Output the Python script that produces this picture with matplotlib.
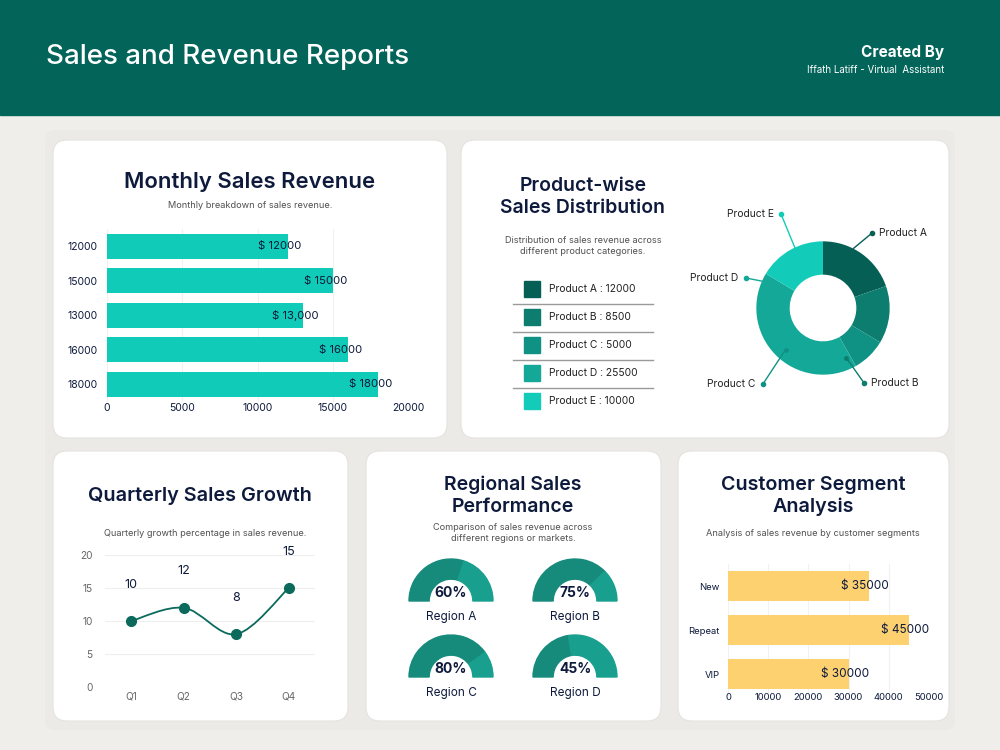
import matplotlib
matplotlib.use("Agg")
import matplotlib.pyplot as plt
import numpy as np
from matplotlib.patches import FancyBboxPatch, Rectangle, Wedge, PathPatch
from matplotlib.path import Path

plt.rcParams["font.family"] = ["Inter", "DejaVu Sans"]

# ---- data ----
monthly_labels = ["12000", "15000", "13000", "16000", "18000"]
monthly_values = [12000, 15000, 13000, 16000, 18000]
monthly_text = ["$ 12000", "$ 15000", "$ 13,000", "$ 16000", "$ 18000"]

products = ["Product A", "Product B", "Product C", "Product D", "Product E"]
product_sales = [12000, 8500, 5000, 25500, 10000]

quarters = ["Q1", "Q2", "Q3", "Q4"]
growth = [10, 12, 8, 15]

regions = ["Region A", "Region B", "Region C", "Region D"]
region_pct = [60, 75, 80, 45]

segments = ["New", "Repeat", "VIP"]
segment_sales = [35000, 45000, 30000]

# ---- style ----
NAVY = "#0e1a3c"
GREY = "#505050"
HEADER = "#03645a"
BG = "#efeeeb"
PANEL = "#eceae7"
TEAL_BAR = "#10cbb7"
YELLOW = "#fdd170"
PRODUCT_COLORS = ["#065f55", "#0c7d6f", "#0f9283", "#13a898", "#12cbb8"]
GAUGE_DARK = "#168a7b"
GAUGE_LIGHT = "#199f8e"
LINE = "#0b6a5c"

W, H = 1000, 750
fig = plt.figure(figsize=(10, 7.5), dpi=100, facecolor=BG)

bg = fig.add_axes([0, 0, 1, 1], zorder=-1)
bg.set_xlim(0, W)
bg.set_ylim(H, 0)
bg.axis("off")


def rect(x0, y0, x1, y1):
    return [x0 / W, 1 - y1 / H, (x1 - x0) / W, (y1 - y0) / H]


# header + panel + cards
bg.add_patch(Rectangle((0, 0), W, 115, color=HEADER))
bg.add_patch(FancyBboxPatch((45, 130), 910, 600, boxstyle="round,pad=0,rounding_size=10",
                            fc=PANEL, ec="none"))
cards = [(53, 140, 447, 438), (461, 140, 949, 438), (53, 451, 348, 721),
         (366, 451, 661, 721), (678, 451, 949, 721)]
for x0, y0, x1, y1 in cards:
    bg.add_patch(FancyBboxPatch((x0, y0), x1 - x0, y1 - y0,
                                boxstyle="round,pad=0,rounding_size=14",
                                fc="white", ec="#e4e3df", lw=0.8))

bg.text(46, 57, "Sales and Revenue Reports", color="white", fontsize=20, fontweight="medium",
        va="center", ha="left")
bg.text(944, 53, "Created By", color="white", fontsize=11, fontweight="bold", va="center", ha="right")
bg.text(944, 70, "Iffath Latiff - Virtual  Assistant", color="white", fontsize=7, va="center", ha="right")


def title(x, y, s, size):
    bg.text(x, y, s, color=NAVY, fontsize=size, fontweight="semibold", ha="center", va="center",
            linespacing=1.3)


def subtitle(x, y, s):
    bg.text(x, y, s, color=GREY, fontsize=6.6, ha="center", va="center", linespacing=1.3)


# ---- card 1: monthly bars ----
title(250, 182, "Monthly Sales Revenue", 15.9)
subtitle(250, 205, "Monthly breakdown of sales revenue.")
ax1 = fig.add_axes(rect(107, 229, 408, 401.5))
ax1.set_facecolor("none")
y1 = np.arange(len(monthly_values))
ax1.barh(y1, monthly_values, height=0.72, color=TEAL_BAR, zorder=2)
for yy, v, t in zip(y1, monthly_values, monthly_text):
    ax1.text(v - 500, yy, t, ha="center", va="center", fontsize=8.2, color=NAVY, zorder=3)
ax1.set_xlim(0, 20000)
ax1.set_ylim(len(monthly_values) - 0.5, -0.5)
ax1.set_yticks(y1, monthly_labels)
ax1.set_xticks([0, 5000, 10000, 15000, 20000])
ax1.grid(axis="x", color="#f1f1f1", lw=0.8, zorder=0)
for s in ax1.spines.values():
    s.set_visible(False)
ax1.tick_params(axis="y", length=0, labelsize=7.5, labelcolor=NAVY, pad=7)
ax1.tick_params(axis="x", length=0, labelsize=7.5, labelcolor=NAVY, pad=1)

# ---- card 2: product donut ----
title(583, 197, "Product-wise\nSales Distribution", 14)
subtitle(583, 246, "Distribution of sales revenue across\ndifferent product categories.")
for i, (p, v, c) in enumerate(zip(products, product_sales, PRODUCT_COLORS)):
    yc = 289 + i * 28
    bg.add_patch(Rectangle((524, yc - 8), 16, 16, color=c))
    bg.text(549, yc, f"{p} : {v}", fontsize=7.4, color="#222222", va="center", ha="left")
    if i < len(products) - 1:
        bg.plot([513, 653], [yc + 15, yc + 15], color="#9a9a9a", lw=1)

ax2 = fig.add_axes(rect(723, 208, 923, 408))
ax2.set_facecolor("none")
ax2.pie(product_sales, colors=PRODUCT_COLORS, startangle=90, counterclock=False, radius=1,
        wedgeprops=dict(width=0.5, edgecolor="none"))
ax2.set_xlim(-1.5, 1.5)
ax2.set_ylim(-1.5, 1.5)
ax2.set_aspect("equal")
ax2.axis("off")
# label anchor angle, anchor radius, label point, text side
label_layout = [(63, 1.0, (0.735, 1.124), "left"),
                (-65, 0.82, (0.615, -1.124), "left"),
                (-132, 0.84, (-0.90, -1.139), "right"),
                (156, 0.98, (-1.154, 0.45), "right"),
                (115, 1.0, (-0.63, 1.41), "right")]
for p, c, (ang, r, (lx, ly), side) in zip(products, PRODUCT_COLORS, label_layout):
    ax0, ay0 = r * np.cos(np.radians(ang)), r * np.sin(np.radians(ang))
    ax2.plot([ax0, lx], [ay0, ly], color=c, lw=1, clip_on=False)
    ax2.plot([lx], [ly], "o", color=c, ms=3, clip_on=False)
    if r < 0.95:
        ax2.plot([ax0], [ay0], "o", color=c, ms=2.5, clip_on=False)
    dx = 0.11 if side == "left" else -0.11
    ax2.text(lx + dx, ly, p, ha=side, va="center", fontsize=7.4, color="#222222", clip_on=False)

# ---- card 3: quarterly growth ----
title(200, 496, "Quarterly Sales Growth", 14.3)
subtitle(205, 533, "Quarterly growth percentage in sales revenue.")
ax3 = fig.add_axes(rect(105, 555, 315, 687))
ax3.set_facecolor("none")
xq = np.arange(len(growth))
pts = np.column_stack([xq, growth]).astype(float)
verts = [tuple(pts[0])]
codes = [Path.MOVETO]
for i in range(len(pts) - 1):
    p0 = pts[max(i - 1, 0)]
    p1, p2 = pts[i], pts[i + 1]
    p3 = pts[min(i + 2, len(pts) - 1)]
    verts += [tuple(p1 + (p2 - p0) / 6), tuple(p2 - (p3 - p1) / 6), tuple(p2)]
    codes += [Path.CURVE4] * 3
ax3.add_patch(PathPatch(Path(verts, codes), fill=False, ec=LINE, lw=1.3, zorder=3))
ax3.plot(xq, growth, "o", color=LINE, ms=7, zorder=4)
for x, v in zip(xq, growth):
    ax3.text(x, v + 5.5, str(v), ha="center", va="center", fontsize=9, color=NAVY)
ax3.set_xlim(-0.5, 3.5)
ax3.set_ylim(0, 20)
ax3.set_xticks(xq, quarters)
ax3.set_yticks([0, 5, 10, 15, 20])
ax3.grid(axis="y", color="#eeeeee", lw=0.8, zorder=0)
for s in ax3.spines.values():
    s.set_visible(False)
ax3.tick_params(axis="y", length=0, labelsize=7.3, labelcolor="#666666", pad=9)
ax3.tick_params(axis="x", length=0, labelsize=7.3, labelcolor="#666666", pad=3)

# ---- card 4: regional gauges ----
title(513, 496, "Regional Sales\nPerformance", 14)
subtitle(513, 533, "Comparison of sales revenue across\ndifferent regions or markets.")
centers = [(451, 601), (575, 601), (451, 677), (575, 677)]
for (cx, cy), name, pct in zip(centers, regions, region_pct):
    g = fig.add_axes(rect(cx - 50, cy - 50, cx + 50, cy + 10))
    g.set_xlim(-50 / 42, 50 / 42)
    g.set_ylim(-10 / 42, 50 / 42)
    g.axis("off")
    split = 180 - 180 * pct / 100
    g.add_patch(Wedge((0, 0), 1, split, 180, width=0.48, color=GAUGE_DARK))
    g.add_patch(Wedge((0, 0), 1, 0, split, width=0.48, color=GAUGE_LIGHT))
    g.text(0, 0.2, f"{pct}%", ha="center", va="center", fontsize=10, fontweight="bold", color=NAVY)
    bg.text(cx, cy + 16, name, ha="center", va="center", fontsize=8.5, color=NAVY)

# ---- card 5: customer segments ----
title(813, 496, "Customer Segment\nAnalysis", 14.2)
subtitle(813, 534, "Analysis of sales revenue by customer segments")
ax5 = fig.add_axes(rect(728, 564, 929, 696))
ax5.set_facecolor("none")
y5 = np.arange(len(segment_sales))
ax5.barh(y5, segment_sales, height=0.68, color=YELLOW, zorder=2)
for yy, v in zip(y5, segment_sales):
    ax5.text(v - 1000, yy, f"$ {v}", ha="center", va="center", fontsize=8.5, color=NAVY, zorder=3)
ax5.set_xlim(0, 50000)
ax5.set_ylim(len(segment_sales) - 0.5, -0.5)
ax5.set_yticks(y5, segments)
ax5.set_xticks([0, 10000, 20000, 30000, 40000, 50000])
ax5.grid(axis="x", color="#f1f1f1", lw=0.8, zorder=0)
for s in ax5.spines.values():
    s.set_visible(False)
ax5.tick_params(axis="y", length=0, labelsize=6.8, labelcolor=NAVY, pad=6)
ax5.tick_params(axis="x", length=0, labelsize=6.8, labelcolor=NAVY, pad=-2)

fig.savefig("out.png", dpi=100, facecolor=BG)
